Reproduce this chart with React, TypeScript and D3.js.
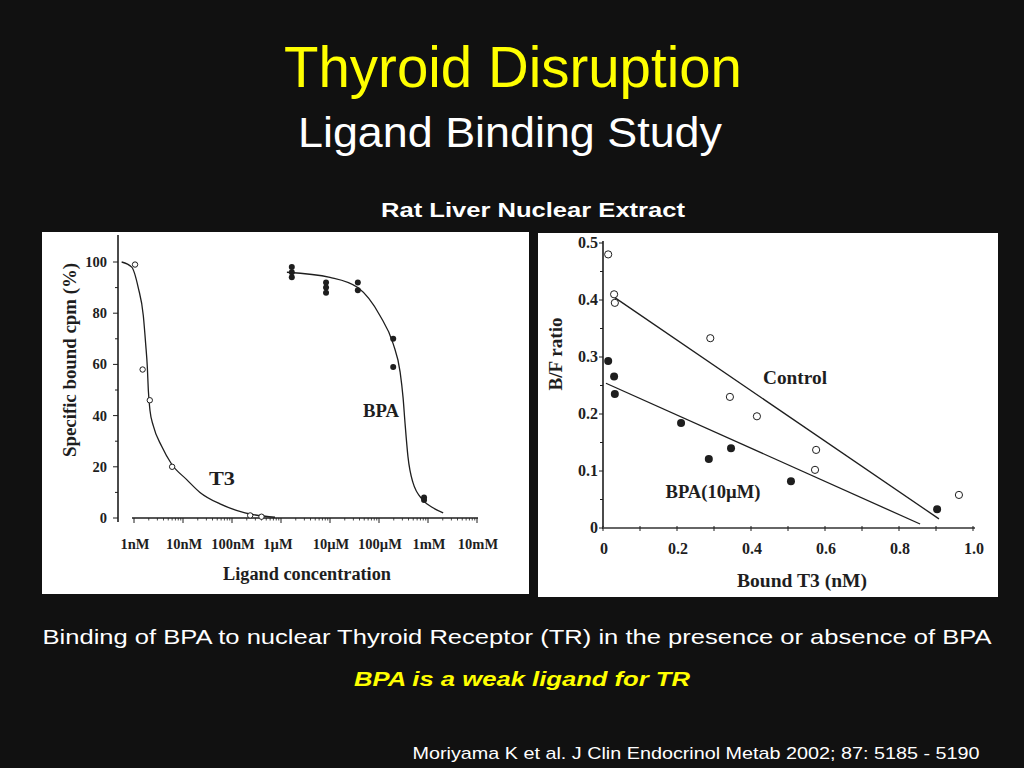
import React, { useEffect, useRef } from "react";
import * as d3 from "d3";

// ---- left panel: competition curves (concentration in nM, % bound)
const CONC_TICKS = [1, 10, 100, 1e3, 1e4, 1e5, 1e6, 1e7];
const CONC_LABELS = ["1nM", "10nM", "100nM", "1\u00b5M", "10\u00b5M", "100\u00b5M", "1mM", "10mM"];
const PCT_TICKS = [0, 20, 40, 60, 80, 100];

const T3_CONC = [1.05, 1.5, 2.1, 6, 235, 400];
const T3_PCT = [99, 58, 46, 20, 1, 0.5];
const T3_FIT_CONC = [0.56, 0.9, 1.22, 1.55, 1.73, 1.87, 1.96, 2.12, 2.48, 3.67, 5.88, 11.9, 22.2, 56.9, 184, 755];
const T3_FIT_PCT = [100, 98, 90, 79, 68, 59, 50, 42, 36, 28, 21, 15, 10, 5.5, 2, 0.3];

const BPA_CONC = [1660, 1660, 1660, 8300, 8300, 8300, 37000, 37000, 195000, 195000, 830000, 830000];
const BPA_PCT = [98, 96, 94, 92, 90, 88, 92, 89, 70, 59, 8, 7];
const BPA_FIT_CONC = [1320, 10000, 37000, 105000, 195000, 270000, 310000, 340000, 390000, 490000, 790000, 1.26e6, 2.04e6];
const BPA_FIT_PCT = [96, 94, 90, 79, 68, 57, 47, 37, 24, 14, 7, 4, 2];

// ---- right panel: Scatchard plot
const BOUND_TICKS = [0, 0.2, 0.4, 0.6, 0.8, 1.0];
const RATIO_TICKS = [0, 0.1, 0.2, 0.3, 0.4, 0.5];

const CTRL_BOUND = [0.014, 0.03, 0.032, 0.29, 0.343, 0.416, 0.576, 0.573, 0.962];
const CTRL_RATIO = [0.48, 0.41, 0.395, 0.333, 0.23, 0.196, 0.137, 0.102, 0.058];
const CTRL_FIT_BOUND = [0.03, 0.908];
const CTRL_FIT_RATIO = [0.405, 0.016];

const BPA10_BOUND = [0.014, 0.03, 0.032, 0.211, 0.286, 0.346, 0.508, 0.903];
const BPA10_RATIO = [0.293, 0.266, 0.235, 0.184, 0.121, 0.14, 0.082, 0.033];
const BPA10_FIT_BOUND = [0.008, 0.857];
const BPA10_FIT_RATIO = [0.254, 0.007];

const SERIF = "'Liberation Serif', 'DejaVu Serif', serif";
const SANS = "'Liberation Sans', Roboto, sans-serif";
const INK = "#1e1e1e";

export default function App() {
  const ref = useRef<SVGSVGElement>(null);

  useEffect(() => {
    const svg = d3.select(ref.current);
    svg.selectAll("*").remove();

    svg.append("rect").attr("width", 1024).attr("height", 768).attr("fill", "#111111");

    // slide texts
    const txt = (x: number, y: number, s: string, size: number, fill: string, len?: number, weight = "normal", style = "normal") => {
      const t = svg
        .append("text")
        .attr("x", x)
        .attr("y", y)
        .attr("text-anchor", "middle")
        .attr("font-family", SANS)
        .attr("font-size", size)
        .attr("font-weight", weight)
        .attr("font-style", style)
        .attr("fill", fill)
        .text(s);
      if (len) t.attr("textLength", len).attr("lengthAdjust", "spacingAndGlyphs");
      return t;
    };
    txt(513, 87, "Thyroid Disruption", 58, "#ffff00", 458);
    txt(510, 147, "Ligand Binding Study", 42, "#ffffff", 424);
    txt(533, 217, "Rat Liver Nuclear Extract", 20, "#ffffff", 304, "bold");
    txt(517, 644, "Binding of BPA to nuclear Thyroid Receptor (TR) in the presence or absence of BPA", 21, "#ffffff", 949);
    txt(522, 686, "BPA is a weak ligand for TR", 21, "#ffff00", 336, "bold", "italic");
    txt(696, 759, "Moriyama K et al. J Clin Endocrinol Metab 2002; 87: 5185 - 5190", 17, "#ffffff", 567);

    const label = (g: any, x: number, y: number, s: string, size: number, len?: number, anchor = "middle") => {
      const t = g
        .append("text")
        .attr("x", x)
        .attr("y", y)
        .attr("text-anchor", anchor)
        .attr("font-family", SERIF)
        .attr("font-weight", "bold")
        .attr("font-size", size)
        .attr("fill", INK)
        .text(s);
      if (len) t.attr("textLength", len).attr("lengthAdjust", "spacingAndGlyphs");
      return t;
    };

    // ---------------- left panel ----------------
    svg.append("rect").attr("x", 42).attr("y", 232).attr("width", 487).attr("height", 362).attr("fill", "#fff");
    const L = svg.append("g");
    const x = d3.scaleLog().domain([1, 1e7]).range([134, 477]);
    const y = d3.scaleLinear().domain([0, 100]).range([518, 262]);

    // y axis
    L.append("line").attr("x1", 118).attr("x2", 118).attr("y1", 235).attr("y2", 522).attr("stroke", INK).attr("stroke-width", 1.6);
    d3.range(0, 101, 10).forEach((v) => {
      L.append("line").attr("x1", v % 20 === 0 ? 113 : 115).attr("x2", 118).attr("y1", y(v)).attr("y2", y(v)).attr("stroke", INK);
    });
    PCT_TICKS.forEach((v) => {
      label(L, 107, y(v) + 5, String(v), 14.5, undefined, "end");
    });

    // x axis
    L.append("line").attr("x1", 132).attr("x2", 478).attr("y1", 518).attr("y2", 518).attr("stroke", INK).attr("stroke-width", 1.6);
    CONC_TICKS.forEach((v, i) => {
      L.append("line").attr("x1", x(v)).attr("x2", x(v)).attr("y1", 518).attr("y2", 523).attr("stroke", INK);
      label(L, x(v) + (i === 3 ? -3 : 1), 549, CONC_LABELS[i], 14.5);
      if (i < CONC_TICKS.length - 1) {
        d3.range(2, 10).forEach((m) => {
          L.append("line").attr("x1", x(v * m)).attr("x2", x(v * m)).attr("y1", 518).attr("y2", 520.5).attr("stroke", INK).attr("stroke-width", 0.8);
        });
      }
    });

    const line = d3.line<[number, number]>().x((d) => x(d[0])).y((d) => y(d[1])).curve(d3.curveMonotoneX);
    L.append("path").attr("d", line(T3_FIT_CONC.map((c, i) => [c, T3_FIT_PCT[i]]))!).attr("fill", "none").attr("stroke", INK).attr("stroke-width", 1.3);
    L.append("path").attr("d", line(BPA_FIT_CONC.map((c, i) => [c, BPA_FIT_PCT[i]]))!).attr("fill", "none").attr("stroke", INK).attr("stroke-width", 1.3);

    T3_CONC.forEach((c, i) => {
      L.append("circle").attr("cx", x(c)).attr("cy", y(T3_PCT[i])).attr("r", 2.7).attr("fill", "#fff").attr("stroke", INK).attr("stroke-width", 1);
    });
    BPA_CONC.forEach((c, i) => {
      L.append("circle").attr("cx", x(c)).attr("cy", y(BPA_PCT[i])).attr("r", 3).attr("fill", INK);
    });

    label(L, 222, 485, "T3", 19, 26);
    label(L, 381, 417, "BPA", 19, 36);
    label(L, 307, 580, "Ligand concentration", 18, 168);
    label(L, 0, 0, "Specific bound cpm (%)", 18, 194).attr("transform", "translate(76,360) rotate(-90)");

    // ---------------- right panel ----------------
    svg.append("rect").attr("x", 538).attr("y", 233).attr("width", 460).attr("height", 364).attr("fill", "#fff");
    const R = svg.append("g");
    const bx = d3.scaleLinear().domain([0, 1]).range([603, 973]);
    const by = d3.scaleLinear().domain([0, 0.5]).range([528, 243]);

    R.append("line").attr("x1", 603).attr("x2", 603).attr("y1", 241).attr("y2", 529).attr("stroke", INK).attr("stroke-width", 1.6);
    d3.range(0, 11).forEach((k) => {
      const v = k * 0.05;
      R.append("line").attr("x1", k % 2 === 0 ? 599 : 600).attr("x2", 603).attr("y1", by(v)).attr("y2", by(v)).attr("stroke", INK);
    });
    RATIO_TICKS.forEach((v) => {
      label(R, 598, by(v) + 5, v === 0 ? "0" : v.toFixed(1), 16, undefined, "end");
    });

    R.append("line").attr("x1", 603).attr("x2", 975).attr("y1", 528).attr("y2", 528).attr("stroke", "#666").attr("stroke-width", 2.2);
    d3.range(0, 11).forEach((k) => {
      const v = k / 10;
      R.append("line").attr("x1", bx(v)).attr("x2", bx(v)).attr("y1", 526).attr("y2", 531).attr("stroke", INK);
    });
    BOUND_TICKS.forEach((v) => {
      label(R, bx(v) + 1, 554, v === 0 ? "0" : v.toFixed(1), 16);
    });

    const fit = (bs: number[], rs: number[]) =>
      R.append("line").attr("x1", bx(bs[0])).attr("y1", by(rs[0])).attr("x2", bx(bs[1])).attr("y2", by(rs[1])).attr("stroke", INK).attr("stroke-width", 1.3);
    fit(CTRL_FIT_BOUND, CTRL_FIT_RATIO);
    fit(BPA10_FIT_BOUND, BPA10_FIT_RATIO);

    CTRL_BOUND.forEach((b, i) => {
      R.append("circle").attr("cx", bx(b)).attr("cy", by(CTRL_RATIO[i])).attr("r", 3.6).attr("fill", "#fff").attr("stroke", INK).attr("stroke-width", 1);
    });
    BPA10_BOUND.forEach((b, i) => {
      R.append("circle").attr("cx", bx(b)).attr("cy", by(BPA10_RATIO[i])).attr("r", 4).attr("fill", INK);
    });

    label(R, 795, 384, "Control", 18, 64);
    label(R, 713, 498, "BPA(10\u00b5M)", 18, 95);
    label(R, 802, 587, "Bound T3 (nM)", 18, 130);
    label(R, 0, 0, "B/F ratio", 18, 73).attr("transform", "translate(562,354) rotate(-90)");
  }, []);

  return <svg ref={ref} width={1024} height={768} style={{ position: "absolute", left: 0, top: 0, display: "block" }} />;
}
